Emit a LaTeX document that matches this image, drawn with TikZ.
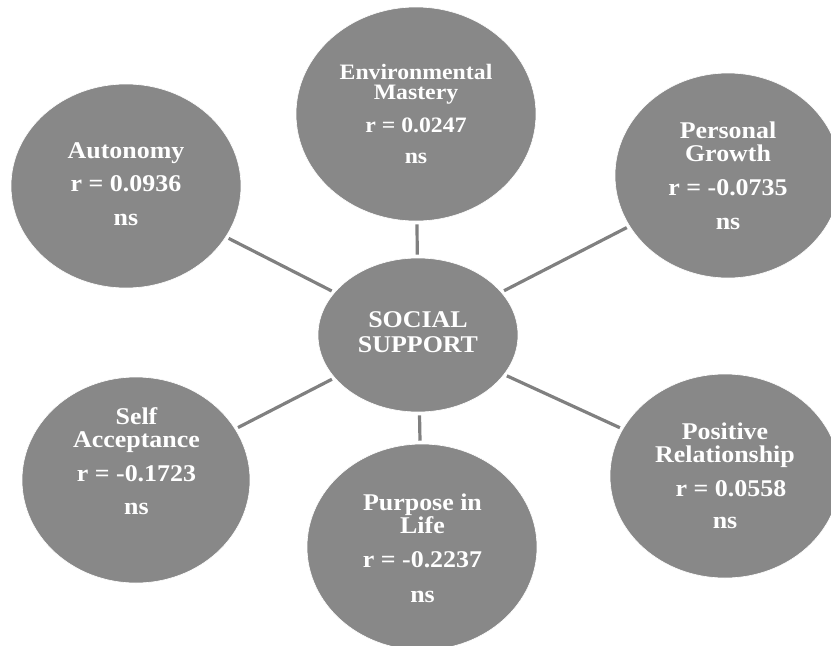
\documentclass[tikz,border=0pt]{standalone}
\usepackage{fontspec}
\setmainfont{Liberation Serif}[FakeStretch=1.08]
\usetikzlibrary{shapes.geometric}
\definecolor{blobgray}{RGB}{136,136,136}
\definecolor{linkgray}{RGB}{128,128,128}
\newcommand{\mylsl}{\lineskiplimit=-50pt\relax\lineskip=0pt\relax}
\tikzset{
  blob/.style={ellipse, fill=blobgray, draw=white, line width=0.6pt, inner sep=0pt},
  lbl/.style={text=white, align=center, inner sep=0pt, font=\bfseries\fontsize{24}{23}\selectfont\mylsl},
  lblsmall/.style={lbl, font=\bfseries\fontsize{22}{20}\selectfont\mylsl},
  lblbig/.style={lbl, font=\bfseries\fontsize{24}{25}\selectfont\mylsl},
  link/.style={draw=linkgray, line width=3.2pt, shorten >=3pt, shorten <=3pt}
}
\begin{document}
\begin{tikzpicture}[x=1pt,y=-1pt]
\useasboundingbox (0,0) rectangle (831,646);
\clip (0,0) rectangle (831,646);
% ellipses
\node[blob, minimum width=200pt, minimum height=154pt] (soc) at (418,335) {};
\node[blob, minimum width=230pt, minimum height=204pt] (aut) at (126,186) {};
\node[blob, minimum width=240pt, minimum height=214pt] (env) at (416,114) {};
\node[blob, minimum width=226pt, minimum height=205pt] (pgr) at (728,175.5) {};
\node[blob, minimum width=230pt, minimum height=204pt] (prl) at (725,476) {};
\node[blob, minimum width=230pt, minimum height=206pt] (pur) at (422,547) {};
\node[blob, minimum width=228pt, minimum height=206pt] (sac) at (136,480) {};
% connectors
\draw[link] (soc) -- (aut);
\draw[link] (soc) -- (env);
\draw[link] (soc) -- (pgr);
\draw[link] (soc) -- (prl);
\draw[link] (soc) -- (pur);
\draw[link] (soc) -- (sac);
% labels
\node[lblbig] (soct) at (418,332.5) {SOCIAL\\SUPPORT};
\node[lbl] (autt) at (126,184.5) {Autonomy\\[10pt]r = 0.0936\\[11pt]ns};
\node[lblsmall] (envt) at (416,113.5) {Environmental\\Mastery\\[13pt]r = 0.0247\\[11pt]ns};
\node[lbl] (pgrt) at (728,175.5) {Personal\\Growth\\[11pt]r = -0.0735\\[11pt]ns};
\node[lbl] (prlt) at (725,475.5) {Positive\\Relationship\\[11pt]\hspace*{12pt}r = 0.0558\\[9pt]ns};
\node[lbl] (purt) at (422.5,548) {Purpose in\\Life\\[11pt]r = -0.2237\\[12pt]ns};
\node[lbl] (sact) at (136.5,461.5) {Self\\Acceptance\\[11pt]r = -0.1723\\[10pt]ns};
\end{tikzpicture}
\end{document}
